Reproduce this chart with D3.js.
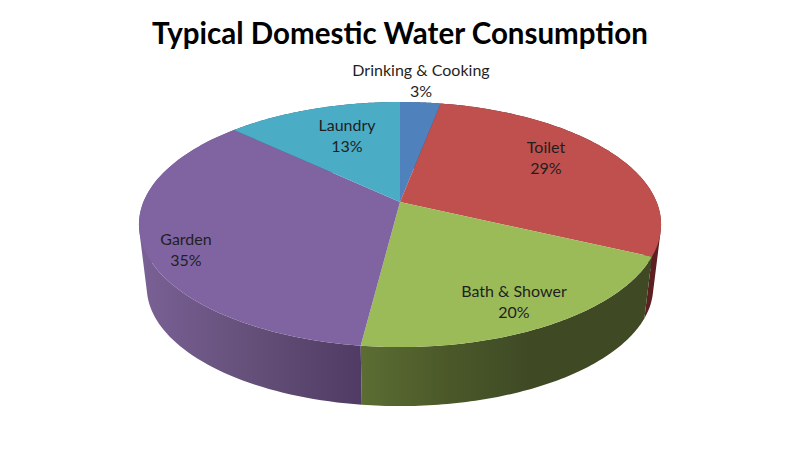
<!DOCTYPE html>
<html>
<head>
<meta charset="utf-8">
<script src="https://cdn.jsdelivr.net/npm/d3@7"></script>
<style>
	html, body { margin: 0; padding: 0; background: #fff; }
	text { font-family: Lato, "Open Sans", sans-serif; }
</style>
</head>
<body>
<div id="chart"></div>
<script>
var chartTitle = "Typical Domestic Water Consumption";
var categories = ["Drinking & Cooking", "Toilet", "Bath & Shower", "Garden", "Laundry"];
var shares = [3, 29, 20, 35, 13];

var topColors = ["#4f81bd", "#c0504d", "#9bbb59", "#8064a2", "#4bacc6"];
// side wall shading, left to right, as [x, colour]
var sideColors = [
	[[140, "#3b5f8c"], [660, "#2a4466"]],
	[[640, "#5c2021"], [660, "#5c2021"]],
	[[362, "#5c6d33"], [450, "#4a5829"], [530, "#3f4a25"], [660, "#3f4a25"]],
	[[140, "#7a6196"], [250, "#645079"], [361, "#4f3b63"]],
	[[140, "#30707f"], [400, "#265a66"]]
];
// centre of each two line label
var labelX = [421, 546, 514, 186, 347];
var labelY = [81, 158, 302, 250, 135.5];

var width = 800, height = 456;

// pie lies on a tilted disc, seen with perspective so the hub sits above the ellipse centre
var hubX = 400, hubY = 202;
var radiusX = 256.6, radiusY = 118.4, perspective = 0.184;
var wallScale = 0.97, wallShift = 69.4;

function project(angle) {
	var u = Math.sin(angle), v = -Math.cos(angle);
	var d = 1 - perspective * v;
	return [hubX + radiusX * u / d, hubY + radiusY * v / d];
}

function projectBottom(angle) {
	var p = project(angle);
	return [hubX + wallScale * (p[0] - hubX), wallScale * p[1] + wallShift];
}

var svg = d3.select("#chart")
	.append("svg")
		.attr("width", width)
		.attr("height", height)
		.style("display", "block");

var arcs = d3.pie()
	.sort(null)
	.value(d => d)
	(shares);

var line = d3.line();

function sampleAngles(d) {
	return d3.range(0, 81).map(i => d.startAngle + (d.endAngle - d.startAngle) * i / 80);
}

// wall as a run of small quads, all wound the same way or they cancel at the silhouette
function wallPath(d) {
	var angles = sampleAngles(d);
	return d3.pairs(angles).map(a => {
		var quad = [project(a[0]), project(a[1]), projectBottom(a[1]), projectBottom(a[0])];
		if (d3.polygonArea(quad) < 0) quad.reverse();
		return line(quad) + "Z";
	}).join("");
}

var defs = svg.append("defs");
arcs.forEach((d, i) => {
	var stops = sideColors[i];
	var x0 = stops[0][0], x1 = stops[stops.length - 1][0];
	var grad = defs.append("linearGradient")
		.attr("id", "side" + i)
		.attr("gradientUnits", "userSpaceOnUse")
		.attr("x1", x0).attr("x2", x1)
		.attr("y1", 0).attr("y2", 0);
	stops.forEach(s => {
		grad.append("stop")
			.attr("offset", (s[0] - x0) / (x1 - x0))
			.attr("stop-color", s[1]);
	});
});

// side walls first, top face covers whatever is behind it
svg.append("g")
	.selectAll("path")
	.data(arcs)
	.enter()
		.append("path")
		.attr("d", wallPath)
		.attr("fill", (d, i) => "url(#side" + i + ")");

svg.append("g")
	.selectAll("path")
	.data(arcs)
	.enter()
		.append("path")
		.attr("d", d => line([[hubX, hubY]].concat(sampleAngles(d).map(project))) + "Z")
		.attr("fill", (d, i) => topColors[i]);

var labels = svg.append("g")
	.attr("text-anchor", "middle")
	.attr("font-size", 16)
	.attr("fill", "#1f1f1f");

categories.forEach((name, i) => {
	labels.append("text")
		.attr("x", labelX[i])
		.attr("y", labelY[i] - 5)
		.text(name);
	labels.append("text")
		.attr("x", labelX[i])
		.attr("y", labelY[i] + 16)
		.text(shares[i] + "%");
});

svg.append("text")
	.attr("x", 400)
	.attr("y", 44)
	.attr("text-anchor", "middle")
	.attr("font-size", 29.5)
	.attr("font-weight", 700)
	.attr("fill", "#000")
	.text(chartTitle);
</script>
</body>
</html>
